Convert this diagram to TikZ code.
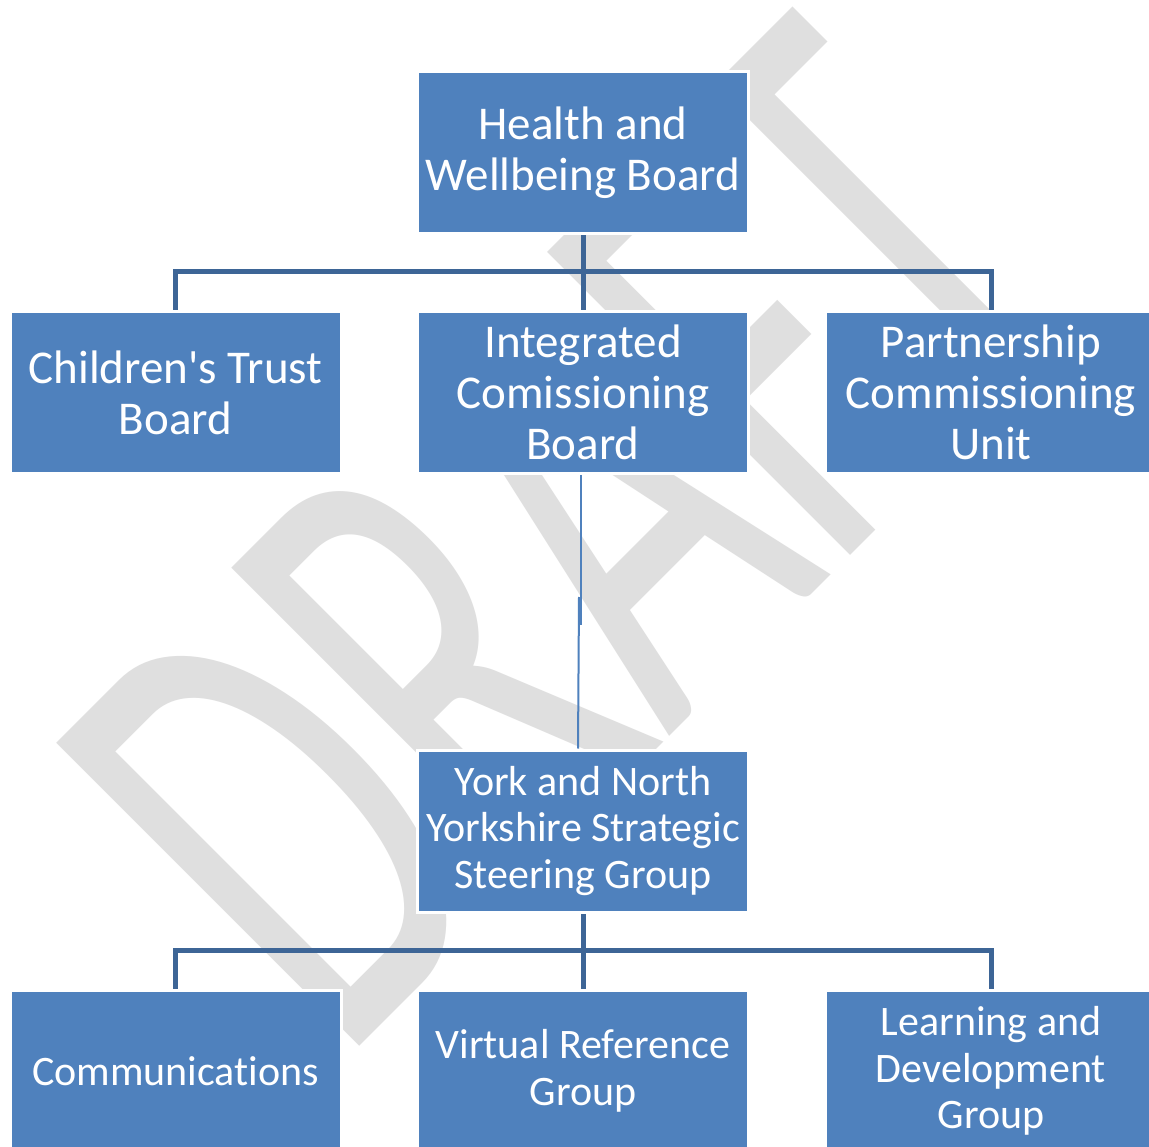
\documentclass[tikz,border=0pt]{standalone}
\usepackage{fontspec}
\setmainfont{Carlito}[Ligatures={TeXOff,CommonOff}]
\definecolor{boxblue}{HTML}{4F81BD}
\definecolor{linkblue}{HTML}{3D6596}
\definecolor{markgray}{HTML}{DFDFDF}
\begin{document}
\begin{tikzpicture}[x=1pt,y=-1pt,
  unit/.style={rectangle, fill=boxblue, draw=white, line width=3pt, text=white,
    align=center, inner sep=0pt, minimum width=331pt, minimum height=162pt},
  upper/.style={unit, font=\fontsize{47}{51}\selectfont},
  lower/.style={unit, font=\fontsize{42}{46.5}\selectfont},
  link/.style={draw=linkblue, line width=5pt},
  thinlink/.style={draw=boxblue, line width=2pt},
  watermark/.style={text=markgray, inner sep=0pt, font=\fontsize{100}{100}\selectfont}]
\useasboundingbox[fill=white] (0,0) rectangle (1149,1147);

% background watermark
\node[watermark, anchor=base west, rotate=45, xscale=4, yscale=6.68] (wm) at (340,1066) {DRAFT};

% junction points of the bus lines
\coordinate (busA) at (583,272);
\coordinate (busB) at (583,950);
\coordinate (jogA) at (581,625);
\coordinate (jogB) at (579,597);

% box positions (placed first so that connectors can refer to them)
\path (583,153) coordinate (hwbc)
      (175.5,392.5) coordinate (ctbc)
      (583,392.5) coordinate (icbc)
      (991,392.5) coordinate (pcuc)
      (583,831) coordinate (nyc)
      (175.5,1071) coordinate (comc)
      (583,1071) coordinate (vrgc)
      (991,1071) coordinate (ldgc);

% connectors
\draw[link] (hwbc) -- (icbc);
\draw[link] (ctbc) |- (busA) -| (pcuc);
\draw[link] (nyc) -- (vrgc);
\draw[link] (comc) |- (busB) -| (ldgc);

% boxes
\node[upper] (hwb) at (hwbc) {Health and\\Wellbeing Board};
\node[upper] (ctb) at (ctbc) {Children's Trust\\Board};
\node[upper] (icb) at (icbc) {Integrated\\Comissioning\\Board};
\node[upper] (pcu) at (pcuc) {Partnership\\Commissioning\\Unit};
\node[lower] (ny) at (nyc) {York and North\\Yorkshire Strategic\\Steering Group};
\node[lower] (com) at (comc) {Communications};
\node[lower] (vrg) at (vrgc) {Virtual Reference\\Group};
\node[lower] (ldg) at (ldgc) {Learning and\\Development\\Group};

% thin link from the commissioning board to the steering group
\draw[thinlink] (icb.south -| jogA) -- (jogA);
\draw[thinlink] (jogB) -- ([xshift=-5pt]ny.north);
\end{tikzpicture}
\end{document}
